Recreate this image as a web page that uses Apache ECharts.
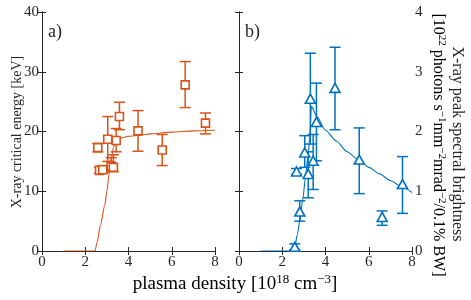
<!DOCTYPE html>
<html>
<head>
<meta charset="utf-8">
<script src="https://cdn.jsdelivr.net/npm/echarts@6/dist/echarts.min.js"></script>
<style>html,body{margin:0;padding:0;background:#fff;}#c{width:471px;height:300px;}</style>
</head>
<body>
<div id="c"></div>
<script>
// ---- data ----
const density = [2.58, 2.66, 2.81, 3.04, 3.20, 3.30, 3.43, 3.58, 4.44, 5.56, 6.62, 7.56];
const energy = [17.3, 13.5, 13.6, 18.7, 14.2, 14.0, 18.5, 22.5, 20.1, 16.9, 27.8, 21.4];
const energyLo = [16.6, 13.0, 13.0, 15.0, 13.3, 13.3, 16.6, 20.3, 16.7, 14.3, 24.0, 19.6];
const energyHi = [18.0, 14.0, 14.3, 22.5, 15.6, 16.1, 20.5, 24.9, 23.5, 19.5, 31.7, 23.1];
const brightness = [0.07, 1.33, 0.66, 1.65, 1.29, 2.55, 1.51, 2.16, 2.73, 1.53, 0.57, 1.12];
const brightLo = [0.02, 1.28, 0.50, 1.40, 0.89, 1.79, 1.03, 1.51, 2.03, 0.96, 0.43, 0.63];
const brightHi = [0.12, 1.38, 0.84, 1.93, 1.66, 3.31, 1.95, 2.81, 3.41, 2.06, 0.67, 1.58];
const fitEx = [1, 2.45, 2.55, 2.7, 2.9, 3.0, 3.1, 3.2, 3.3, 3.4, 3.6, 4.0, 4.5, 5.0, 6.0, 7.0, 8.0];
const fitEy = [0, 0, 1.5, 4.3, 7.6, 10.0, 12.8, 15.2, 17.3, 18.6, 18.9, 19.2, 19.4, 19.6, 19.9, 20.1, 20.2];
const fitBx = [1, 2.55, 2.7, 2.81, 2.96, 3.07, 3.2, 3.27, 3.35, 3.6, 4.0, 4.5, 5.0, 5.5, 6.0, 6.5, 7.0, 7.5, 8.0];
const fitBy = [0, 0, 0.28, 0.5, 0.89, 1.23, 1.62, 1.9, 2.42, 2.25, 2.02, 1.84, 1.66, 1.53, 1.40, 1.29, 1.18, 1.08, 0.98];
const xTicks = [0, 8, 2];
const eTicks = [0, 40, 10];
const bTicks = [0, 4, 1];

const ORANGE = '#D95319', BLUE = '#0072BD', AX = '#262626';
const FONT = '"Liberation Serif", "DejaVu Serif", serif';

function zip(a, b) { return a.map((v, i) => [v, b[i]]); }
function zip3(a, b, c) { return a.map((v, i) => [v, b[i], c[i]]); }

function axisBase(show) {
  return {
    type: 'value',
    axisLine: { show: true, lineStyle: { color: AX, width: 1 } },
    axisTick: { show: true, inside: true, length: 4, lineStyle: { color: AX } },
    splitLine: { show: false },
  };
}
function xAx(grid, pos, show) {
  return Object.assign(axisBase(show), { gridIndex: grid, position: pos, min: xTicks[0], max: xTicks[1], interval: xTicks[2],
    axisLabel: { show: show, fontFamily: FONT, fontSize: 15, color: AX, margin: 4 } });
}
function yAx(grid, pos, show, t) {
  return Object.assign(axisBase(show), { gridIndex: grid, position: pos, min: t[0], max: t[1], interval: t[2],
    axisLabel: { show: show, fontFamily: FONT, fontSize: 15, color: AX, margin: 3 } });
}

function errSeries(xi, yi, data, color) {
  return {
    type: 'custom', xAxisIndex: xi, yAxisIndex: yi, z: 3,
    data: data,
    encode: { x: 0, y: [1, 2] },
    renderItem: function (params, api) {
      const x = api.value(0), lo = api.value(1), hi = api.value(2);
      const p1 = api.coord([x, hi]), p2 = api.coord([x, lo]);
      const w = 5.5;
      const st = { stroke: color, lineWidth: 1.5 };
      return { type: 'group', children: [
        { type: 'line', shape: { x1: p1[0], y1: p1[1], x2: p2[0], y2: p2[1] }, style: st },
        { type: 'line', shape: { x1: p1[0] - w, y1: p1[1], x2: p1[0] + w, y2: p1[1] }, style: st },
        { type: 'line', shape: { x1: p2[0] - w, y1: p2[1], x2: p2[0] + w, y2: p2[1] }, style: st },
      ] };
    }
  };
}

const chart = echarts.init(document.getElementById('c'), null, { renderer: 'canvas' });
chart.setOption({
  animation: false,
  backgroundColor: '#fff',
  grid: [
    { left: 42, top: 12, width: 173, height: 239 },
    { left: 239, top: 12, width: 173, height: 239 }
  ],
  xAxis: [xAx(0, 'bottom', true), xAx(0, 'top', false), xAx(1, 'bottom', true), xAx(1, 'top', false)],
  yAxis: [yAx(0, 'left', true, eTicks), yAx(0, 'right', false, eTicks), yAx(1, 'right', true, bTicks), yAx(1, 'left', false, bTicks)],
  series: [
    { type: 'line', xAxisIndex: 0, yAxisIndex: 0, data: zip(fitEx, fitEy), showSymbol: false, smooth: 0.25, smoothMonotone: 'x',
      lineStyle: { color: ORANGE, width: 1.1 }, z: 2 },
    errSeries(0, 0, zip3(density, energyLo, energyHi), ORANGE),
    { type: 'scatter', xAxisIndex: 0, yAxisIndex: 0, data: zip(density, energy), symbol: 'rect', symbolSize: 8,
      itemStyle: { color: '#fff', borderColor: ORANGE, borderWidth: 1.6, opacity: 1 }, z: 4 },
    { type: 'line', xAxisIndex: 2, yAxisIndex: 2, data: zip(fitBx, fitBy), showSymbol: false, smooth: 0.25, smoothMonotone: 'x',
      lineStyle: { color: BLUE, width: 1.1 }, z: 2 },
    errSeries(2, 2, zip3(density, brightLo, brightHi), BLUE),
    { type: 'scatter', xAxisIndex: 2, yAxisIndex: 2, data: zip(density, brightness), symbol: 'triangle', symbolSize: [10, 9],
      itemStyle: { color: '#fff', borderColor: BLUE, borderWidth: 1.6, opacity: 1 }, z: 4 }
  ],
  graphic: [
    { type: 'text', x: 48, y: 32, style: { text: 'a)', font: '18px ' + FONT, fill: AX, textVerticalAlign: 'middle' } },
    { type: 'text', x: 245, y: 32, style: { text: 'b)', font: '18px ' + FONT, fill: AX, textVerticalAlign: 'middle' } },
    { type: 'text', x: 17, y: 132, rotation: Math.PI / 2,
      style: { text: 'X-ray critical energy [keV]', font: '14px ' + FONT, fill: AX, textAlign: 'center', textVerticalAlign: 'middle' } },
    { type: 'text', x: 235, y: 284,
      style: { text: '{a|plasma density [10}{s|18}{a| cm}{s|−3}{a|]}', textAlign: 'center', textVerticalAlign: 'middle',
        rich: { a: { fontFamily: FONT, fontSize: 19, color: AX, lineHeight: 21 }, s: { fontFamily: FONT, fontSize: 13, color: AX, verticalAlign: 'top', lineHeight: 12 } } } },
    { type: 'text', x: 457, y: 144, rotation: -Math.PI / 2,
      style: { text: 'X-ray peak spectral brightness', font: '16px ' + FONT, fill: AX, textAlign: 'center', textVerticalAlign: 'middle' } },
    { type: 'text', x: 438, y: 145, rotation: -Math.PI / 2,
      style: { text: '{a|[10}{s|22}{a| photons s}{s|−1}{a|mm}{s|−2}{a|mrad}{s|−2}{a|/0.1% BW]}', textAlign: 'center', textVerticalAlign: 'middle',
        rich: { a: { fontFamily: FONT, fontSize: 16, color: AX, lineHeight: 18 }, s: { fontFamily: FONT, fontSize: 11, color: AX, verticalAlign: 'top', lineHeight: 11 } } } }
  ]
});
</script>
</body>
</html>
